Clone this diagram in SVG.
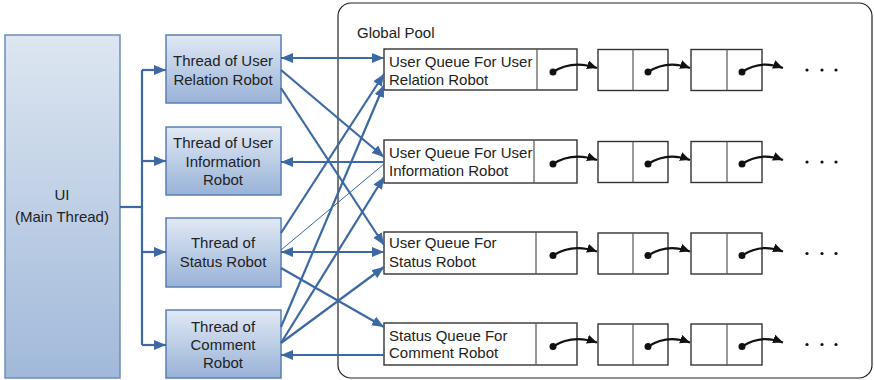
<svg xmlns="http://www.w3.org/2000/svg" width="874" height="380" viewBox="0 0 874 380">
  <style>
    .lbl { font-family: "Liberation Sans", Arial, sans-serif; font-size: 15px; fill: #222; }
    .mid { text-anchor: middle; }
    .thread { fill: url(#threadGrad); stroke: #5a7fb4; stroke-width: 1.5; }
    .ui { fill: url(#uiGrad); stroke: #6c8dbd; stroke-width: 1.5; }
    .cell { fill: #fff; stroke: #333; stroke-width: 1.4; }
    .div { stroke: #555; stroke-width: 1.2; }
    .conn { stroke: #3c68a3; stroke-width: 2.2; fill: none; }
    .thin { stroke: #3c68a3; stroke-width: 1; fill: none; }
    .link { stroke: #111; stroke-width: 2.2; fill: none; marker-end: url(#blk); }
    .dot { fill: #111; }
  </style>
  <defs>
    <linearGradient id="threadGrad" x1="0" y1="0" x2="0" y2="1">
      <stop offset="0" stop-color="#e1e9f4"/>
      <stop offset="1" stop-color="#98b2d7"/>
    </linearGradient>
    <linearGradient id="uiGrad" x1="0" y1="0" x2="0" y2="1">
      <stop offset="0" stop-color="#dde6f1"/>
      <stop offset="1" stop-color="#a1b9da"/>
    </linearGradient>
    <marker id="ah" markerUnits="userSpaceOnUse" markerWidth="13" markerHeight="11" refX="12" refY="5" orient="auto">
      <path d="M0,0 L12,5 L0,10 z" fill="#3c68a3"/>
    </marker>
    <marker id="as" markerUnits="userSpaceOnUse" markerWidth="13" markerHeight="11" refX="0" refY="5" orient="auto">
      <path d="M12,0 L0,5 L12,10 z" fill="#3c68a3"/>
    </marker>
    <marker id="blk" markerUnits="userSpaceOnUse" markerWidth="12" markerHeight="10" refX="10" refY="4.5" orient="auto">
      <path d="M0,0 L10,4.5 L0,9 z" fill="#111"/>
    </marker>
    <!-- one linked-list row: queue cell tail, two nodes, trailing dots -->
    <g id="chain">
      <rect class="cell" x="598" y="-20" width="70" height="41"/>
      <line class="div" x1="633" y1="-20" x2="633" y2="21"/>
      <rect class="cell" x="691" y="-20" width="71" height="41"/>
      <line class="div" x1="727" y1="-20" x2="727" y2="21"/>
      <circle class="dot" cx="553" cy="2.5" r="3.5"/>
      <path class="link" d="M553,2.5 Q572,-10 597,-1.5"/>
      <circle class="dot" cx="648" cy="2.5" r="3.5"/>
      <path class="link" d="M648,2.5 Q667,-10 690,-1.5"/>
      <circle class="dot" cx="742" cy="2.5" r="3.5"/>
      <path class="link" d="M742,2.5 Q761,-10 783,-1.5"/>
      <circle class="dot" cx="807" cy="0.5" r="1.6"/>
      <circle class="dot" cx="822" cy="0.5" r="1.6"/>
      <circle class="dot" cx="836" cy="0.5" r="1.6"/>
    </g>
  </defs>

  <!-- main thread -->
  <g id="ui">
    <rect class="ui" x="5" y="35" width="115" height="343"/>
    <text class="lbl mid" x="62" y="200">UI</text>
    <text class="lbl mid" x="62" y="222">(Main Thread)</text>
  </g>

  <!-- worker threads -->
  <g id="thread-relation">
    <rect class="thread" x="166" y="35" width="115" height="68"/>
    <text class="lbl mid" x="223" y="66">Thread of User</text>
    <text class="lbl mid" x="223" y="85">Relation Robot</text>
  </g>
  <g id="thread-information">
    <rect class="thread" x="166" y="127" width="115" height="68"/>
    <text class="lbl mid" x="223" y="148">Thread of User</text>
    <text class="lbl mid" x="223" y="167">Information</text>
    <text class="lbl mid" x="223" y="185">Robot</text>
  </g>
  <g id="thread-status">
    <rect class="thread" x="166" y="218" width="115" height="69"/>
    <text class="lbl mid" x="223" y="248">Thread of</text>
    <text class="lbl mid" x="223" y="267">Status Robot</text>
  </g>
  <g id="thread-comment">
    <rect class="thread" x="166" y="310" width="115" height="68"/>
    <text class="lbl mid" x="223" y="332">Thread of</text>
    <text class="lbl mid" x="223" y="350">Comment</text>
    <text class="lbl mid" x="223" y="368">Robot</text>
  </g>

  <!-- shared pool -->
  <g id="global-pool">
    <rect x="338" y="3" width="534" height="375" rx="13" fill="none" stroke="#222" stroke-width="1.2"/>
    <text class="lbl" x="357" y="38">Global Pool</text>
  </g>

  <g id="queue-relation">
    <rect class="cell" x="384" y="49" width="193" height="41"/>
    <line class="div" x1="537" y1="49" x2="537" y2="90"/>
    <text class="lbl" x="389" y="67">User Queue For User</text>
    <text class="lbl" x="389" y="85">Relation Robot</text>
    <use href="#chain" y="69.5"/>
  </g>
  <g id="queue-information">
    <rect class="cell" x="384" y="140" width="193" height="43"/>
    <line class="div" x1="534" y1="140" x2="534" y2="183"/>
    <text class="lbl" x="389" y="158">User Queue For User</text>
    <text class="lbl" x="389" y="176">Information Robot</text>
    <use href="#chain" y="161.5"/>
  </g>
  <g id="queue-status">
    <rect class="cell" x="384" y="232" width="193" height="42"/>
    <line class="div" x1="536" y1="232" x2="536" y2="274"/>
    <text class="lbl" x="389" y="248">User Queue For</text>
    <text class="lbl" x="389" y="267">Status Robot</text>
    <use href="#chain" y="253"/>
  </g>
  <g id="queue-comment">
    <rect class="cell" x="384" y="323" width="193" height="42"/>
    <line class="div" x1="536" y1="323" x2="536" y2="365"/>
    <text class="lbl" x="389" y="341">Status Queue For</text>
    <text class="lbl" x="389" y="358">Comment Robot</text>
    <use href="#chain" y="344"/>
  </g>

  <g id="connectors">
    <!-- UI fan-out to threads -->
    <polyline class="conn" points="120,207 142,207"/>
    <line class="conn" x1="142" y1="70" x2="142" y2="345"/>
    <line class="conn" x1="142" y1="70" x2="166" y2="70" marker-end="url(#ah)"/>
    <line class="conn" x1="142" y1="161" x2="166" y2="161" marker-end="url(#ah)"/>
    <line class="conn" x1="142" y1="252" x2="166" y2="252" marker-end="url(#ah)"/>
    <line class="conn" x1="142" y1="345" x2="166" y2="345" marker-end="url(#ah)"/>

    <!-- threads and queues -->
    <line class="conn" x1="281" y1="58" x2="384" y2="58" marker-start="url(#as)" marker-end="url(#ah)"/>
    <line class="conn" x1="384" y1="162" x2="281" y2="162" marker-end="url(#ah)"/>
    <line class="conn" x1="281" y1="252" x2="384" y2="252" marker-start="url(#as)" marker-end="url(#ah)"/>
    <line class="conn" x1="384" y1="355" x2="281" y2="355" marker-end="url(#ah)"/>

    <line class="conn" x1="281" y1="70" x2="384" y2="157" marker-end="url(#ah)"/>
    <line class="conn" x1="281" y1="88" x2="384" y2="245" marker-end="url(#ah)"/>
    <line class="conn" x1="281" y1="233" x2="384" y2="74" marker-end="url(#ah)"/>
    <line class="conn" x1="281" y1="268" x2="384" y2="327" marker-end="url(#ah)"/>
    <line class="conn" x1="281" y1="327" x2="384" y2="85" marker-end="url(#ah)"/>
    <line class="conn" x1="281" y1="343" x2="384" y2="177" marker-end="url(#ah)"/>
    <line class="conn" x1="281" y1="343" x2="384" y2="267" marker-end="url(#ah)"/>
    <line class="thin" x1="281" y1="250" x2="384" y2="164"/>
  </g>
</svg>
